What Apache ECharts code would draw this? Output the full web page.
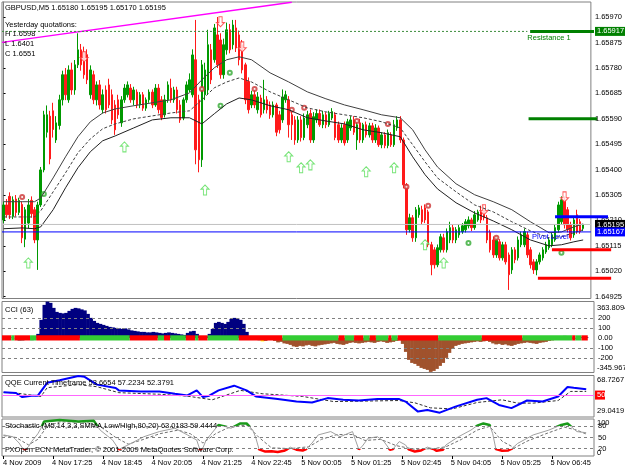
<!DOCTYPE html>
<html><head><meta charset="utf-8">
<script src="https://cdn.jsdelivr.net/npm/echarts@6/dist/echarts.min.js"></script>
<style>html,body{margin:0;padding:0;background:#fff}#c{width:625px;height:469px}</style>
</head><body><div id="c"></div>
<script>
// ---- data (prices as 1e-5 above 1.60000) ----
const candles = [ // [open, close, low, high]
[5212,5268,5200,5280],[5268,5231,5220,5290],[5300,5231,5215,5315],[5225,5287,5215,5300],[5290,5240,5225,5305],
[5240,5285,5230,5295],[5270,5145,5125,5280],[5140,5250,5110,5260],[5200,5268,5180,5290],[5285,5235,5220,5300],
[5250,5137,5125,5260],[5137,5268,5025,5280],[5268,5399,5260,5410],[5399,5605,5390,5620],[5540,5605,5520,5640],
[5600,5440,5420,5620],[5620,5550,5520,5650],[5511,5575,5500,5600],[5565,5661,5550,5680],[5661,5755,5640,5770],
[5755,5680,5660,5780],[5661,5773,5650,5790],[5773,5698,5680,5800],[5698,5792,5680,5810],[5792,5848,5780,5910],
[5848,5792,5770,5870],[5840,5755,5740,5860],[5830,5736,5720,5850],[5680,5773,5665,5790],[5755,5661,5645,5770],
[5661,5717,5640,5730],[5717,5642,5625,5735],[5624,5680,5610,5700],[5698,5624,5610,5715],[5717,5642,5630,5740],
[5680,5586,5570,5700],[5642,5549,5530,5660],[5661,5605,5590,5680],[5575,5661,5560,5675],[5661,5705,5650,5720],
[5680,5717,5670,5730],[5705,5661,5650,5720],[5661,5698,5640,5710],[5690,5642,5630,5700],[5642,5680,5630,5690],
[5680,5630,5620,5690],[5630,5661,5620,5670],[5661,5690,5650,5700],[5690,5642,5630,5700],[5642,5705,5635,5720],
[5705,5624,5610,5720],[5661,5595,5585,5675],[5605,5661,5595,5680],[5661,5717,5650,5730],[5705,5661,5650,5740],
[5661,5698,5650,5710],[5698,5624,5610,5710],[5642,5586,5575,5660],[5593,5661,5585,5670],[5661,5717,5650,5730],
[5698,5736,5690,5760],[5680,5829,5670,5850],[5811,5474,5420,5960],[5661,5437,5390,5680],[5437,5792,5410,5810],
[5680,5773,5660,5800],[5698,5867,5680,5923],[5848,5736,5720,5870],[5811,5930,5800,5945],[5904,5792,5780,5971],
[5885,5755,5740,5910],[5755,5867,5740,5890],[5848,5923,5830,5950],[5923,5848,5835,5945],[5867,5941,5850,5960],
[5930,5855,5840,5960],[5904,5811,5790,5920],[5867,5773,5760,5885],[5792,5661,5645,5800],[5730,5624,5610,5745],
[5642,5680,5630,5695],[5680,5642,5630,5700],[5624,5672,5610,5690],[5668,5605,5595,5680],[5624,5661,5610,5736],
[5661,5624,5610,5675],[5642,5605,5590,5655],[5605,5642,5595,5655],[5642,5540,5525,5650],[5605,5549,5535,5620],
[5586,5672,5575,5700],[5661,5680,5650,5695],[5661,5568,5520,5675],[5605,5568,5511,5620],[5586,5511,5493,5600],
[5511,5586,5500,5600],[5586,5520,5505,5600],[5520,5593,5510,5610],[5568,5605,5555,5620],[5610,5511,5500,5625],
[5511,5598,5500,5615],[5586,5610,5575,5625],[5610,5568,5560,5625],[5568,5605,5555,5620],[5605,5568,5555,5615],
[5568,5610,5560,5620],[5593,5617,5585,5630],[5605,5520,5510,5615],[5568,5511,5500,5580],[5511,5556,5500,5570],
[5568,5500,5490,5580],[5511,5579,5500,5590],[5556,5586,5545,5600],[5586,5540,5530,5600],[5511,5568,5474,5580],
[5575,5511,5500,5590],[5511,5568,5500,5575],[5568,5530,5520,5580],[5530,5564,5520,5575],[5564,5511,5500,5575],
[5511,5556,5500,5570],[5556,5493,5485,5565],[5493,5530,5480,5540],[5530,5490,5480,5540],[5490,5538,5480,5550],
[5530,5493,5485,5540],[5493,5568,5485,5586],[5556,5586,5545,5600],[5586,5511,5500,5600],[5511,5343,5330,5520],
[5343,5175,5156,5350],[5175,5220,5165,5235],[5220,5145,5130,5230],[5145,5250,5130,5260],[5231,5257,5220,5268],
[5250,5205,5195,5265],[5257,5212,5200,5270],[5242,5119,5110,5250],[5119,5044,5005,5130],[5100,5044,5030,5110],
[5044,5108,5035,5120],[5100,5149,5090,5160],[5145,5100,5090,5160],[5100,5168,5090,5180],[5137,5183,5125,5205],
[5183,5137,5125,5195],[5137,5175,5125,5185],[5156,5183,5145,5195],[5168,5190,5160,5200],[5175,5205,5165,5215],
[5190,5212,5180,5225],[5212,5183,5170,5220],[5183,5231,5175,5245],[5212,5242,5205,5250],[5242,5212,5200,5265],
[5250,5220,5210,5268],[5220,5137,5125,5230],[5165,5100,5090,5175],[5137,5081,5070,5150],[5081,5137,5070,5150],
[5130,5070,5060,5140],[5070,5119,5060,5130],[5119,5055,5045,5130],[5081,5007,4950,5090],[5025,5100,5010,5110],
[5100,5063,5050,5110],[5070,5137,5060,5150],[5119,5156,5110,5168],[5119,5168,5110,5180],[5156,5081,5070,5168],
[5100,5044,5030,5110],[5055,5025,5010,5065],[5025,5055,5005,5065],[5055,5081,5045,5090],[5070,5100,5060,5110],
[5092,5119,5085,5130],[5108,5137,5100,5145],[5119,5156,5110,5165],[5137,5183,5130,5195],[5175,5268,5165,5280],
[5205,5287,5195,5300],[5287,5194,5180,5300],[5250,5175,5165,5260],[5194,5145,5135,5205],[5156,5212,5145,5225],
[5231,5168,5160,5250],[5205,5168,5160,5215],[5180,5195,5170,5195]
];
const bandUpper = [[0,5280],[6,5280],[10,5280],[12,5294],[16,5369],[20,5448],[24,5523],[28,5579],[32,5612],[36,5627],[42,5639],[48,5650],[54,5661],[60,5687],[64,5736],[68,5781],[72,5811],[76,5822],[80,5811],[86,5762],[92,5728],[98,5691],[104,5665],[110,5642],[116,5624],[122,5605],[128,5594],[132,5549],[136,5474],[140,5410],[146,5347],[152,5306],[158,5280],[164,5250],[170,5205],[176,5164],[180,5167],[184,5186],[187,5197]];
const bandMid = [[0,5223],[6,5223],[10,5223],[12,5246],[16,5317],[20,5388],[24,5463],[28,5515],[32,5553],[36,5571],[42,5590],[48,5601],[54,5612],[60,5620],[64,5661],[68,5706],[72,5728],[76,5743],[80,5728],[86,5691],[92,5661],[98,5631],[104,5616],[110,5605],[116,5594],[122,5579],[128,5556],[132,5493],[136,5429],[140,5369],[146,5317],[152,5268],[158,5242],[164,5205],[170,5171],[176,5145],[180,5149],[184,5164],[187,5175]];
const bandLower = [[0,5179],[6,5182],[10,5179],[12,5186],[16,5250],[20,5332],[24,5407],[28,5467],[32,5508],[36,5526],[42,5556],[48,5586],[54,5594],[60,5594],[64,5571],[68,5609],[72,5646],[76,5668],[80,5661],[86,5639],[92,5624],[98,5594],[104,5582],[110,5571],[116,5549],[122,5538],[128,5523],[132,5448],[136,5381],[140,5328],[146,5276],[152,5238],[158,5208],[164,5175],[170,5137],[176,5115],[180,5119],[184,5130],[187,5137]];
const upArrows = [[8,5051],[39,5485],[65,5324],[92,5448],[96,5407],[99,5418],[117,5392],[126,5407],[136,5119],[142,5051]];
const downArrows = [[26,5822],[70,5953],[77,5859],[155,5250],[181,5298]];
const redMarks = [[6,5298],[64,5702],[81,5702],[93,5624],[97,5631],[114,5582],[124,5571],[130,5336],[137,5265],[159,5145]];
const greenMarks = [[13,5309],[73,5762],[70,5639],[150,5126],[180,5089]];
const priceTicks = [1.64925,1.65020,1.65115,1.65210,1.65305,1.65400,1.65495,1.65590,1.65685,1.65780,1.65875,1.65970];
const levelR1 = 1.65917, levelG2 = 1.65590, levelBlue = 1.65224, levelRed1 = 1.65100, levelRed2 = 1.64994;
const bidPrice = 1.65195, pivotPrice = 1.65167;
const trendLine = [[-0.5,5876],[93,6026]];
const timeLabels = ['4 Nov 2009','4 Nov 17:25','4 Nov 18:45','4 Nov 20:05','4 Nov 21:25','4 Nov 22:45','5 Nov 00:05','5 Nov 01:25','5 Nov 02:45','5 Nov 04:05','5 Nov 05:25','5 Nov 06:45'];
const timeLabelBars = [0,16,32,48,64,80,96,112,128,144,160,176];

const cci = [
15,10,5,0,-10,-30,-28,-15,5,-25,
-20,40,180,330,363,350,300,260,250,245,
250,270,290,300,295,285,275,240,200,170,
150,140,130,120,110,105,100,95,90,95,
85,75,70,65,60,60,55,55,60,55,
50,45,50,55,50,45,40,35,30,50,
65,70,40,10,-10,15,40,90,150,160,
150,140,160,190,200,195,180,140,60,10,
-5,-20,-25,-35,-30,-15,-20,-30,-45,-40,
-55,-60,-70,-85,-90,-80,-85,-75,-70,-80,
-85,-75,-70,-65,-60,-55,-50,-60,-65,-70,
-60,-50,-45,-50,-55,-50,-45,-40,-45,-50,
-40,-35,-40,-50,-45,-40,-30,-25,-60,-140,
-220,-250,-260,-280,-300,-310,-320,-340,-330,-310,
-280,-250,-200,-150,-110,-80,-70,-60,-55,-50,
-45,-40,-35,-40,-35,-30,-40,-55,-65,-60,
-70,-65,-75,-80,-70,-60,-55,-50,-45,-50,
-55,-60,-50,-45,-40,-30,-25,-20,-10,10,
20,15,5,-10,-5,5,10,8];
const cciGrayBars = [4,5,6,7,9,10,64,81,82];
const cciYellowBars = [83];
const cciRuns = [[0,2,0],[3,3,1],[4,8,0],[9,10,1],[11,24,0],[25,40,1],[41,49,0],[50,51,1],[52,53,0],[54,58,1],[59,61,0],[62,62,1],[63,65,0],[66,75,1],[76,89,0],[90,107,1],[108,109,0],[110,112,1],[113,115,0],[116,117,1],[118,119,0],[120,123,1],[124,124,0],[125,126,1],[127,139,0],[140,153,1],[154,166,0],[167,182,1],[183,183,0],[184,185,1],[186,187,0]];
const cciRange = [-345.967, 363.8094];
const cciLevels = [200,100,-100,-200];

const qqeMain = [[0,52.6],[4,52.0],[6,48.1],[9,49.4],[11,49.4],[14,61.7],[18,64.2],[24,68.2],[26,67.5],[30,60.0],[36,56.8],[37,54.5],[44,53.5],[50,53.5],[55,51.3],[59,49.7],[62,54.5],[64,48.1],[66,49.4],[69,54.5],[74,59.0],[78,54.5],[81,48.7],[88,46.2],[94,43.8],[99,42.9],[104,47.1],[109,45.5],[114,44.8],[120,46.2],[127,46.2],[129,43.8],[133,34.2],[136,35.8],[140,33.2],[145,39.0],[152,45.5],[155,47.1],[159,40.6],[163,37.5],[168,44.8],[173,43.8],[178,48.7],[181,57.8],[183,57.0],[187,55.5]];
const qqeSignal = [[0,52.6],[4,52.0],[12,48.7],[14,57.1],[24,60.0],[30,58.0],[37,52.3],[50,50.8],[59,49.0],[67,45.5],[76,54.5],[83,51.3],[96,48.7],[106,43.8],[127,44.8],[132,42.6],[137,37.8],[144,36.8],[152,42.9],[160,45.5],[165,42.3],[170,42.3],[178,44.8],[182,53.5],[187,53.5]];
const qqeRange = [29.0419, 68.7267];

const stochMain = [[0,57],[3,52],[5,35],[6,22],[7,18],[8,25],[9,39],[11,60],[12,75],[13,93],[18,97],[24,93],[29,95],[31,70],[35,43],[37,18],[40,30],[45,52],[50,66],[55,75],[59,57],[62,43],[63,17],[64,22],[65,43],[69,84],[71,80],[73,75],[76,88],[78,88],[80,70],[81,48],[82,18],[84,12],[86,13],[88,11],[90,14],[91,18],[92,24],[94,17],[96,15],[97,18],[99,35],[101,57],[105,66],[108,52],[112,66],[114,18],[115,25],[117,48],[120,52],[122,40],[124,17],[125,19],[127,39],[129,30],[130,18],[132,12],[134,15],[136,24],[138,19],[139,14],[141,17],[142,30],[146,52],[150,70],[152,82],[154,88],[156,84],[157,60],[158,19],[160,14],[162,15],[163,19],[165,34],[170,57],[175,70],[179,84],[181,88],[184,66],[187,63]];
const stochSignal = [[0,55],[4,50],[8,30],[11,45],[14,80],[18,92],[26,92],[31,80],[36,50],[40,32],[45,45],[50,60],[56,70],[60,60],[64,35],[68,60],[72,76],[78,84],[82,50],[86,22],[92,20],[98,25],[102,45],[107,58],[112,58],[116,42],[121,45],[126,28],[132,18],[138,20],[142,25],[147,45],[152,70],[156,80],[160,40],[164,22],[168,40],[174,60],[180,78],[184,70],[187,59.4]];
const stochLevels = [80,50,20];

// ---- helpers ----
const P = v => +(1.6 + v / 1e5).toFixed(5);
const pts = arr => arr.map(d => [d[0], P(d[1])]);
const F = 'Liberation Sans';
const FS = 7.5;
const SLOTS = 190;
const cats = Array.from({length: SLOTS}, (_, i) => String(i));
const candleData = candles.map(c => c.map(P));
const cciData = cci.map((v, i) => [i, v]);

const chart = echarts.init(document.getElementById('c'), null, {renderer: 'canvas'});
const border = {show: true, borderColor: '#808080', borderWidth: 1, backgroundColor: '#fff'};
const vx = (g) => ({type: 'value', gridIndex: g, min: -0.5, max: SLOTS - 0.5, show: false});
const hideY = (g, mn, mx) => ({type: 'value', gridIndex: g, min: mn, max: mx, show: false, splitLine: {show: false}});
const noSym = {showSymbol: false, symbol: 'none', silent: true, animation: false};
const upPath = 'path://M5,0 L10,5 L7,5 L7,12 L3,12 L3,5 L0,5 Z';
const dnPath = 'path://M3,0 L7,0 L7,7 L10,7 L5,12 L0,7 L3,7 Z';

const option = {
  animation: false,
  backgroundColor: '#fff',
  textStyle: {fontFamily: F},
  grid: [
    Object.assign({left: 2, right: 31, top: 2, height: 296.5}, border),
    Object.assign({left: 2, right: 31, top: 301.5, height: 71}, border),
    Object.assign({left: 2, right: 31, top: 375.5, height: 41.5}, border),
    Object.assign({left: 2, right: 31, top: 419, height: 37}, border),
    {left: 2, right: 13, top: 2, height: 296.5, show: false}
  ],
  xAxis: [
    {type: 'category', gridIndex: 0, data: cats, show: false, boundaryGap: true},
    vx(0),
    {type: 'value', gridIndex: 4, min: -0.5, max: -0.5 + SLOTS * 610 / 592, show: false},
    {type: 'category', gridIndex: 1, data: cats, show: false, boundaryGap: true},
    vx(1),
    vx(2),
    {type: 'category', gridIndex: 3, data: cats, boundaryGap: true, position: 'bottom',
      axisLine: {show: false},
      axisTick: {show: true, length: 3, alignWithLabel: true, interval: i => timeLabelBars.includes(i), lineStyle: {color: '#000'}},
      axisLabel: {show: false}},
    vx(3)
  ],
  yAxis: [
    {type: 'value', gridIndex: 0, position: 'right', min: 1.64918, max: 1.66027,
      axisLine: {show: true, lineStyle: {color: '#808080'}},
      axisTick: {show: true, length: 2, customValues: priceTicks, lineStyle: {color: '#000'}},
      axisLabel: {customValues: priceTicks, formatter: v => v.toFixed(5), fontSize: FS, fontFamily: F, color: '#000', margin: 4},
      splitLine: {show: false}},
    hideY(4, 1.64918, 1.66027),
    {type: 'value', gridIndex: 1, position: 'right', min: cciRange[0], max: cciRange[1],
      axisLine: {show: false}, axisTick: {show: false}, splitLine: {show: false},
      axisLabel: {customValues: [200, 100, 0, -100, -200], formatter: v => v === 0 ? '0.00' : String(v), fontSize: FS, fontFamily: F, color: '#000', margin: 4}},
    hideY(2, qqeRange[0], qqeRange[1]),
    {type: 'value', gridIndex: 3, position: 'right', min: 0, max: 100,
      axisLine: {show: false}, axisTick: {show: false}, splitLine: {show: false},
      axisLabel: {customValues: stochLevels, fontSize: FS, fontFamily: F, color: '#000', margin: 4}}
  ],
  visualMap: [{type: 'piecewise', show: false, seriesIndex: 21, dimension: 1,
    pieces: [{lt: 20, color: '#ff0000'}, {gte: 20, lte: 80, color: 'rgba(255,255,255,0)'}, {gt: 80, color: '#1a9a1a'}]}],
  series: [
    // 0 candles
    {type: 'candlestick', xAxisIndex: 0, yAxisIndex: 0, data: candleData, barWidth: 2,
      itemStyle: {color: '#009900', color0: '#ff1a1a', borderColor: '#009900', borderColor0: '#ff1a1a', borderWidth: 1}, silent: true},
    // 1-3 bands
    Object.assign({type: 'line', xAxisIndex: 1, yAxisIndex: 0, data: pts(bandUpper), lineStyle: {color: '#404040', width: 1}}, noSym),
    Object.assign({type: 'line', xAxisIndex: 1, yAxisIndex: 0, data: pts(bandMid), lineStyle: {color: '#404040', width: 1, type: [3, 2]}}, noSym),
    Object.assign({type: 'line', xAxisIndex: 1, yAxisIndex: 0, data: pts(bandLower), lineStyle: {color: '#202020', width: 1}}, noSym),
    // 4 trend line
    Object.assign({type: 'line', xAxisIndex: 1, yAxisIndex: 0, data: pts(trendLine), lineStyle: {color: '#ff00ff', width: 1.5}}, noSym),
    // 5-7 full-width horizontal lines
    Object.assign({type: 'line', xAxisIndex: 1, yAxisIndex: 0, data: [[-0.5, levelR1], [169, levelR1]], lineStyle: {color: '#3c8c3c', width: 1, type: [2, 2]}}, noSym),
    Object.assign({type: 'line', xAxisIndex: 1, yAxisIndex: 0, data: [[-0.5, bidPrice], [SLOTS - 0.5, bidPrice]], lineStyle: {color: '#c0c0c0', width: 1}}, noSym),
    Object.assign({type: 'line', xAxisIndex: 1, yAxisIndex: 0, data: [[-0.5, pivotPrice], [SLOTS - 0.5, pivotPrice]], lineStyle: {color: '#0000ff', width: 1}}, noSym),
    // 8-12 level segments
    Object.assign({type: 'line', xAxisIndex: 2, yAxisIndex: 1, data: [[169, levelR1], [189.5, levelR1]], lineStyle: {color: '#008000', width: 3}}, noSym),
    Object.assign({type: 'line', xAxisIndex: 2, yAxisIndex: 1, data: [[168.5, levelG2], [190.5, levelG2]], lineStyle: {color: '#008000', width: 3}}, noSym),
    Object.assign({type: 'line', xAxisIndex: 2, yAxisIndex: 1, data: [[177, levelBlue], [194, levelBlue]], lineStyle: {color: '#0000ff', width: 3}}, noSym),
    Object.assign({type: 'line', xAxisIndex: 2, yAxisIndex: 1, data: [[176, levelRed1], [195, levelRed1]], lineStyle: {color: '#ff0000', width: 3}}, noSym),
    Object.assign({type: 'line', xAxisIndex: 2, yAxisIndex: 1, data: [[171.5, levelRed2], [195, levelRed2]], lineStyle: {color: '#ff0000', width: 3}}, noSym),
    // 13-16 arrows and marks
    {type: 'scatter', xAxisIndex: 1, yAxisIndex: 0, data: pts(upArrows), symbol: upPath, symbolSize: [8, 10], silent: true,
      itemStyle: {color: '#ffffff', borderColor: '#55dd55', borderWidth: 1}},
    {type: 'scatter', xAxisIndex: 1, yAxisIndex: 0, data: pts(downArrows), symbol: dnPath, symbolSize: [8, 10], silent: true,
      itemStyle: {color: '#ffffff', borderColor: '#ff3333', borderWidth: 1}},
    {type: 'scatter', xAxisIndex: 1, yAxisIndex: 0, data: pts(redMarks), symbol: 'emptyCircle', symbolSize: 4, silent: true,
      itemStyle: {color: '#cc3333', borderColor: '#cc3333', borderWidth: 1}},
    {type: 'scatter', xAxisIndex: 1, yAxisIndex: 0, data: pts(greenMarks), symbol: 'emptyCircle', symbolSize: 4, silent: true,
      itemStyle: {color: '#33aa33', borderColor: '#33aa33', borderWidth: 1}},
    // 17 CCI histogram (continuous columns)
    {type: 'custom', xAxisIndex: 4, yAxisIndex: 2, data: cciData, silent: true, encode: {x: 0, y: 1},
      renderItem: (params, api) => {
        const i = api.value(0), v = api.value(1);
        const a = api.coord([i - 0.5, 0]), b = api.coord([i + 0.5, v]);
        const fill = cciYellowBars.includes(i) ? '#ffff00' : cciGrayBars.includes(i) ? '#909090' : (v >= 0 ? '#000080' : '#a0522d');
        return {type: 'rect', shape: {x: a[0], y: Math.min(a[1], b[1]), width: b[0] - a[0] + 0.6, height: Math.abs(b[1] - a[1])}, style: {fill: fill}};
      },
      markLine: {silent: true, symbol: 'none', label: {show: false}, lineStyle: {color: '#808080', type: [3, 3], width: 1},
        data: cciLevels.map(v => ({yAxis: v}))}},
    // 18 CCI strip
    {type: 'custom', xAxisIndex: 4, yAxisIndex: 2, data: cciRuns, silent: true, encode: {x: [0, 1], y: 2},
      renderItem: (params, api) => {
        const s = api.value(0), e = api.value(1), c = api.value(2);
        const p1 = api.coord([s - 0.5, 26]), p2 = api.coord([e + 0.5, -26]);
        return {type: 'rect', shape: {x: p1[0], y: p1[1], width: p2[0] - p1[0], height: p2[1] - p1[1]}, style: {fill: c ? '#33cc33' : '#ff0000'}};
      }},
    // 19-20 QQE
    Object.assign({type: 'line', xAxisIndex: 5, yAxisIndex: 3, data: qqeSignal, lineStyle: {color: '#303030', width: 1, type: [3, 2]},
      markLine: {silent: true, symbol: 'none', label: {show: false}, lineStyle: {color: '#ff66ff', type: 'solid', width: 1}, data: [{yAxis: 50}]}}, noSym),
    Object.assign({type: 'line', xAxisIndex: 5, yAxisIndex: 3, data: qqeMain, lineStyle: {color: '#0000ff', width: 2}}, noSym),
    // 21 stoch highlight (visualMap)
    Object.assign({type: 'line', xAxisIndex: 7, yAxisIndex: 4, data: stochMain, lineStyle: {width: 2.5}, z: 5}, noSym),
    // 22-23 stoch lines
    Object.assign({type: 'line', xAxisIndex: 7, yAxisIndex: 4, data: stochSignal, lineStyle: {color: '#707070', width: 1, type: [3, 2]},
      markLine: {silent: true, symbol: 'none', label: {show: false}, lineStyle: {color: '#808080', type: [3, 3], width: 1},
        data: stochLevels.map(v => ({yAxis: v}))}}, noSym),
    Object.assign({type: 'line', xAxisIndex: 7, yAxisIndex: 4, data: stochMain, lineStyle: {color: '#a0a0a0', width: 1}}, noSym)
  ]
};
chart.setOption(option);

// ---- text overlays ----
const txt = (x, y, text, fill, extra) => Object.assign({type: 'text', x: x, y: y, z: 50, silent: true,
  style: {text: text, fill: fill || '#000', fontSize: FS, fontFamily: F, verticalAlign: 'middle'}}, extra || {});
const yP = p => chart.convertToPixel({yAxisIndex: 0}, p);
const xB = i => chart.convertToPixel({xAxisIndex: 1}, i);
const boxes = [[levelR1, '#008000'], [bidPrice, '#000000'], [pivotPrice, '#0000ff']];
const g = [];
boxes.forEach(([p, c]) => {
  const y = yP(p);
  g.push({type: 'rect', z: 60, silent: true, shape: {x: 595, y: y - 4.5, width: 30, height: 9}, style: {fill: c}});
  g.push(Object.assign(txt(597, y, p.toFixed(5), '#fff'), {z: 61}));
});
const q50 = chart.convertToPixel({yAxisIndex: 3}, 50);
g.push({type: 'rect', z: 60, silent: true, shape: {x: 595, y: q50 - 4.5, width: 10, height: 9}, style: {fill: '#ff0000'}});
g.push(Object.assign(txt(597, q50, '50', '#fff'), {z: 61}));
g.push(txt(5, 7.5, 'GBPUSD,M5 1.65180 1.65195 1.65170 1.65195'));
g.push(txt(5, 25, 'Yesterday quotations:'));
g.push(txt(5, 33.5, 'H 1.6598'));
g.push(txt(5, 43.5, 'L 1.6401'));
g.push(txt(5, 53.5, 'C 1.6551'));
g.push(txt(xB(169), yP(levelR1) + 6.5, 'Resistance 1', '#008000'));
g.push(txt(xB(170.5), yP(pivotPrice) + 5.5, 'Pivot Level', '#0000ff'));
g.push(txt(5, 309.5, 'CCI (63)'));
g.push(txt(5, 383, 'QQE Current Timeframe 53.6654 57.2234 52.3791'));
g.push(txt(5, 426, 'Stochastic (M5,14,3,3,SMMA,Low/High,80,20) 63.0183 59.4444'));
g.push(txt(5, 450, 'FXOpen ECN MetaTrader, \u00a9 2001-2009 MetaQuotes Software Corp.'));
g.push(txt(597, 307.5, cciRange[1].toFixed(4)));
g.push(txt(597, 368, cciRange[0].toFixed(3)));
g.push(txt(597, 379.5, qqeRange[1].toFixed(4)));
g.push(txt(597, 411, qqeRange[0].toFixed(4)));
g.push(txt(597, 422.5, '100'));
g.push(txt(597, 452.5, '0'));
timeLabelBars.forEach((b, k) => {
  const x = chart.convertToPixel({xAxisIndex: 6}, b);
  g.push(txt(Math.max(3, x - 1.5), 462.5, timeLabels[k]));
});
chart.setOption({graphic: g});
</script>
</body></html>
